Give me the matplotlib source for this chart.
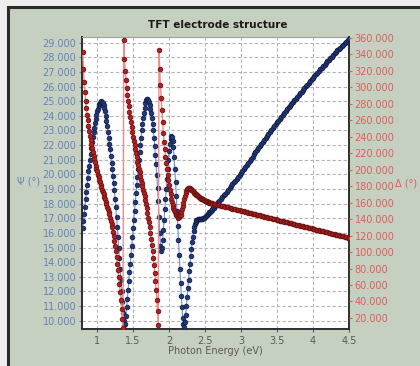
import numpy as np
import matplotlib
matplotlib.use('Agg')
import matplotlib.pyplot as plt
from matplotlib.patches import Rectangle
from matplotlib.ticker import FormatStrFormatter, MultipleLocator

# photon energy grid (eV): fine part of the scan, then the coarser tail
energy_fine = np.round(np.arange(0.80, 2.605, 0.01), 2)
energy_tail = np.round(np.arange(2.62, 4.505, 0.02), 2)

# Psi (deg), left axis
psi_fine = [
    16.3, 16.8, 17.3, 17.8, 18.3, 18.8, 19.3, 19.75, 20.2, 20.6,
    21.0, 21.4, 21.8, 22.2, 22.55, 22.9, 23.2, 23.5, 23.8, 24.05,
    24.3, 24.5, 24.65, 24.8, 24.9, 24.97, 25.0, 24.98, 24.9, 24.75,
    24.55, 24.3, 24.0, 23.65, 23.3, 22.9, 22.5, 22.1, 21.7, 21.25,
    20.8, 20.35, 19.9, 19.4, 18.9, 18.35, 17.75, 17.1, 16.4, 15.7,
    15.0, 14.25, 13.5, 12.75, 12.0, 11.25, 10.55, 10.0, 9.7, 9.8,
    10.3, 10.9, 11.5, 12.1, 12.7, 13.3, 13.9, 14.5, 15.1, 15.7,
    16.3, 16.9, 17.5, 18.1, 18.7, 19.3, 19.85, 20.4, 20.95, 21.5,
    22.0, 22.5, 23.0, 23.45, 23.85, 24.2, 24.55, 24.85, 25.05, 25.15,
    25.18, 25.1, 24.95, 24.75, 24.5, 24.2, 23.85, 23.45, 23.0, 22.5,
    21.95, 21.35, 20.7, 19.95, 19.1, 18.15, 17.1, 16.0, 15.1, 14.75,
    15.0, 15.5, 16.2, 16.9, 17.6, 18.3, 19.0, 19.7, 20.4, 21.0,
    21.6, 22.1, 22.45, 22.6, 22.55, 22.3, 21.85, 21.2, 20.4, 19.5,
    18.5, 17.5, 16.5, 15.5, 14.5, 13.5, 12.6, 11.7, 10.9, 10.2,
    9.75, 9.6, 9.9, 10.4, 11.0, 11.6, 12.2, 12.8, 13.4, 13.9,
    14.4, 14.9, 15.35, 15.75, 16.1, 16.4, 16.6, 16.75, 16.85, 16.9,
    16.92, 16.93, 16.94, 16.95, 16.96, 16.97, 16.98, 17.0, 17.02, 17.05,
    17.1, 17.15, 17.2, 17.25, 17.3, 17.35, 17.4, 17.45, 17.5, 17.55,
    17.6,
]
psi_tail = [
    17.72, 17.84, 17.96, 18.08, 18.2, 18.32, 18.44, 18.56, 18.68, 18.8,
    18.93, 19.06, 19.19, 19.32, 19.45, 19.58, 19.71, 19.84, 19.97, 20.1,
    20.24, 20.38, 20.52, 20.66, 20.8, 20.94, 21.08, 21.22, 21.36, 21.5,
    21.64, 21.78, 21.92, 22.06, 22.2, 22.34, 22.48, 22.62, 22.76, 22.9,
    23.03, 23.16, 23.29, 23.42, 23.55, 23.68, 23.81, 23.94, 24.07, 24.2,
    24.33, 24.46, 24.58, 24.7, 24.82, 24.94, 25.06, 25.18, 25.3, 25.42,
    25.54, 25.66, 25.78, 25.9, 26.02, 26.14, 26.26, 26.38, 26.5, 26.62,
    26.73, 26.84, 26.95, 27.06, 27.17, 27.28, 27.39, 27.5, 27.61, 27.72,
    27.83, 27.94, 28.05, 28.16, 28.27, 28.37, 28.47, 28.57, 28.67, 28.77,
    28.87, 28.97, 29.07, 29.17, 29.27,
]

# Delta (deg), right axis - wraps 0/360 twice
delta_fine = [
    343, 322, 306, 294, 284, 275, 267, 260, 253, 247,
    241, 236, 231, 226, 221, 217, 213, 209, 205, 201,
    198, 194, 191, 188, 185, 182, 179, 176, 173, 170,
    167, 164, 161, 158, 155, 152, 149, 146, 142, 138,
    134, 130, 125, 120, 114, 108, 101, 94, 86, 78,
    70, 61, 52, 42, 31, 19, 8, 358, 334, 320,
    309, 299, 291, 284, 277, 270, 264, 258, 252, 246,
    240, 235, 230, 225, 220, 215, 210, 206, 201, 197,
    192, 188, 184, 180, 176, 172, 168, 163, 158, 153,
    148, 142, 136, 130, 123, 116, 109, 101, 93, 84,
    75, 65, 54, 42, 28, 12, 345, 322, 303, 287,
    272, 258, 245, 234, 225, 216, 208, 201, 194, 187,
    181, 175, 170, 165, 161, 157, 154, 151, 148.5, 146.5,
    145, 143.5, 142.5, 142, 142.3, 143.5, 145.5, 148.5, 152, 156,
    160, 164, 168, 171.5, 174.5, 176.5, 177.8, 178.3, 178, 177.3,
    176.5, 175.7, 174.8, 174, 173, 172, 171, 170.3, 169.5, 168.8,
    168, 167.4, 166.8, 166.2, 165.6, 165, 164.5, 164, 163.5, 163,
    162.5, 162.1, 161.7, 161.3, 160.9, 160.5, 160.2, 159.9, 159.6, 159.3,
    159.0,
]
delta_tail = [
    158.6, 158.2, 157.7, 157.3, 156.8, 156.4, 155.9, 155.5, 155.1, 154.6,
    154.2, 153.7, 153.3, 152.9, 152.4, 152.0, 151.5, 151.1, 150.7, 150.2,
    149.8, 149.3, 148.9, 148.5, 148.0, 147.6, 147.1, 146.7, 146.3, 145.8,
    145.4, 144.9, 144.5, 144.1, 143.6, 143.2, 142.7, 142.3, 141.9, 141.4,
    141.0, 140.5, 140.1, 139.7, 139.2, 138.8, 138.3, 137.9, 137.5, 137.0,
    136.6, 136.1, 135.7, 135.3, 134.8, 134.4, 133.9, 133.5, 133.1, 132.6,
    132.2, 131.7, 131.3, 130.9, 130.4, 130.0, 129.5, 129.1, 128.7, 128.2,
    127.8, 127.3, 126.9, 126.5, 126.0, 125.6, 125.1, 124.7, 124.3, 123.8,
    123.4, 122.9, 122.5, 122.1, 121.6, 121.2, 120.7, 120.3, 119.9, 119.4,
    119.0, 118.5, 118.1, 117.7, 117.2,
]

energy = np.concatenate([energy_fine, energy_tail])
psi = np.array(psi_fine + psi_tail)
delta = np.array(delta_fine + delta_tail)

x_ticks = [1, 1.5, 2, 2.5, 3, 3.5, 4, 4.5]

PSI_COL = '#6482b8'
DEL_COL = '#dc5e5e'
TXT_COL = '#5a5a5a'

plt.rcParams['font.family'] = ['DejaVu Sans']

fig = plt.figure(figsize=(4.2, 3.66), dpi=100)
fig.patch.set_facecolor('#eeeeee')
# green panel with dark frame (only top/left edges show)
fig.add_artist(Rectangle((8 / 420, -0.1), 1.2, 1.1 - 7 / 366, transform=fig.transFigure,
                         facecolor='#c6d0c1', edgecolor='#2b2b2b', linewidth=2.2, zorder=0))

ax = fig.add_axes([82 / 420, 1 - 329 / 366, 267 / 420, 292 / 366])
ax.set_facecolor('white')
ax.set_xlim(0.79, 4.5)
ax.set_ylim(9.43, 29.39)
ax.yaxis.set_major_locator(MultipleLocator(1))
ax.yaxis.set_major_formatter(FormatStrFormatter('%.3f'))
ax.set_xticks(x_ticks)
ax.set_xticklabels(['1', '1.5', '2', '2.5', '3', '3.5', '4', '4.5'])
ax.grid(True, color='#b4b4b4', linestyle=(0, (3, 2)), linewidth=0.8)
ax.tick_params(axis='y', colors=PSI_COL, labelsize=7, length=2, pad=2)
ax.tick_params(axis='x', colors=TXT_COL, labelsize=7, length=2, pad=3)
for s in ['left', 'bottom', 'right']:
    ax.spines[s].set_color('#2e2e2e')
    ax.spines[s].set_linewidth(1.4)
ax.spines['top'].set_color('#a0a0a0')
ax.spines['top'].set_linewidth(0.8)

ax.plot(energy, psi, color='#7390cf', linewidth=0.8, marker='o', markersize=3.3,
        markerfacecolor='#22397a', markeredgecolor='#131f48', markeredgewidth=0.6, zorder=3)

ax2 = ax.twinx()
ax2.set_ylim(6.6, 361.2)
ax2.yaxis.set_major_locator(MultipleLocator(20))
ax2.yaxis.set_major_formatter(FormatStrFormatter('%.3f'))
ax2.set_yticks(np.arange(20, 361, 20))
ax2.tick_params(axis='y', colors=DEL_COL, labelsize=7, length=2, pad=2)
for s in ax2.spines.values():
    s.set_visible(False)
ax2.plot(energy, delta, color='#f08c8c', linewidth=1.0, marker='o', markersize=3.3,
         markerfacecolor='#b3201f', markeredgecolor='#6a1212', markeredgewidth=0.6, zorder=3)

fig.text(0.518, 1 - 25 / 366, 'TFT electrode structure', ha='center', va='center',
         fontsize=7.5, fontweight='bold', color='#1a1a1a')
fig.text(215 / 420, 1 - 351 / 366, 'Photon Energy (eV)', ha='center', va='center',
         fontsize=7, color=TXT_COL)
fig.text(29 / 420, 1 - 182 / 366, 'Ψ (°)', ha='center', va='center', fontsize=7, color=PSI_COL)
fig.text(406 / 420, 1 - 183 / 366, 'Δ (°)', ha='center', va='center', fontsize=7, color=DEL_COL)

fig.savefig('out.png', dpi=100, facecolor=fig.get_facecolor())
